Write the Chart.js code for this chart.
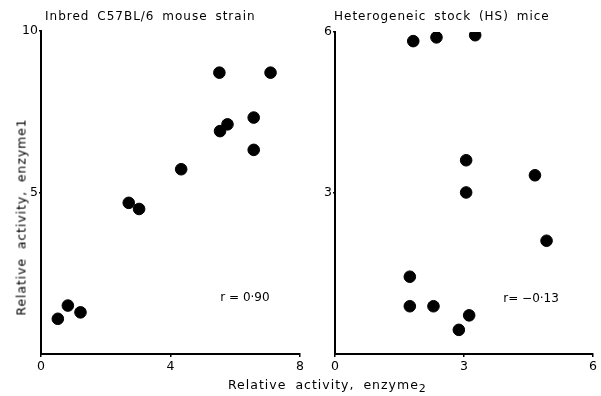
<!DOCTYPE html>
<html>
<head>
<meta charset="utf-8">
<script src="https://cdn.jsdelivr.net/npm/chart.js@4.4.1/dist/chart.umd.min.js"></script>
<style>
  body { margin: 0; background: #fff; }
  #wrap { position: relative; width: 601px; height: 396px; overflow: hidden; font-family: "DejaVu Sans", sans-serif; color: #000; }
  #leftBox { position: absolute; left: 0; top: 0; width: 312px; height: 396px; }
  #rightBox { position: absolute; left: 300px; top: 0; width: 301px; height: 396px; }
  .title { position: absolute; top: 9px; font-size: 12px; letter-spacing: 1px; word-spacing: 3px; white-space: nowrap; }
  #xTitle { position: absolute; left: 228px; top: 377px; font-size: 12.5px; letter-spacing: 1px; word-spacing: 4px; white-space: nowrap; }
  #xTitle sub { font-size: 11px; vertical-align: -3px; }
  #yTitle { position: absolute; left: 21px; top: 217px; font-size: 12.5px; letter-spacing: 0.9px; word-spacing: 4px; white-space: nowrap; transform: translate(-50%, -50%) rotate(-90deg); }
</style>
</head>
<body>
<div id="wrap">
  <div id="leftBox"><canvas id="inbredChart"></canvas></div>
  <div id="rightBox"><canvas id="hsChart"></canvas></div>
  <div class="title" style="left:45px">Inbred C57BL/6 mouse strain</div>
  <div class="title" style="left:334px">Heterogeneic stock (HS) mice</div>
  <div id="xTitle">Relative activity, enzyme<sub>2</sub></div>
  <div id="yTitle">Relative activity, enzyme1</div>
</div>
<script>
// Inbred C57BL/6 mice: enzyme2 (x) vs enzyme1 (y)
const inbredEnzyme2 = [5.51, 7.09, 6.57, 5.76, 5.53, 6.57, 4.33, 2.71, 3.03, 0.83, 1.22, 0.52];
const inbredEnzyme1 = [8.71, 8.71, 7.32, 7.11, 6.90, 6.32, 5.72, 4.68, 4.49, 1.50, 1.29, 1.09];
const inbredXTicks = [0, 4, 8];
const inbredYTicks = [5, 10];
const inbredR = "r = 0·90";

// Heterogeneic stock (HS) mice
const hsEnzyme2 = [1.82, 2.36, 3.26, 3.05, 4.65, 3.05, 4.92, 1.74, 1.74, 2.29, 3.12, 2.88];
const hsEnzyme1 = [5.83, 5.90, 5.94, 3.61, 3.33, 3.01, 2.11, 1.44, 0.89, 0.89, 0.72, 0.45];
const hsXTicks = [0, 3, 6];
const hsYTicks = [3, 6];
const hsR = "r= −0·13";

const FONT = "'DejaVu Sans', sans-serif";

// draws the correlation label at a data position
const rLabel = {
    id: "rLabel",
    afterDatasetsDraw(chart, args, opts) {
        const { ctx, scales } = chart;
        ctx.save();
        ctx.font = "12px " + FONT;
        ctx.fillStyle = "#000";
        ctx.textAlign = "center";
        ctx.textBaseline = "middle";
        ctx.fillText(opts.text, scales.x.getPixelForValue(opts.x), scales.y.getPixelForValue(opts.y));
        ctx.restore();
    },
};

function makeScatter(id, xs, ys, xTicks, yTicks, cfg) {
    const ctx = document.getElementById(id).getContext("2d");
    return new Chart(ctx, {
        type: "scatter",
        data: {
            datasets: [{
                data: xs.map((x, i) => ({ x: x, y: ys[i] })),
                backgroundColor: "#000",
                borderColor: "#000",
                pointRadius: 5.8,
                pointHoverRadius: 5.8,
            }],
        },
        options: {
            responsive: true,
            maintainAspectRatio: false,
            animation: false,
            layout: { padding: { top: cfg.top, right: cfg.right, left: 0, bottom: 0 } },
            plugins: {
                legend: { display: false },
                tooltip: { enabled: false },
                rLabel: cfg.r,
            },
            scales: {
                x: {
                    type: "linear",
                    min: xTicks[0],
                    max: xTicks[xTicks.length - 1],
                    afterBuildTicks: (s) => { s.ticks = xTicks.map((v) => ({ value: v })); },
                    afterFit: (s) => { s.height = 42; },
                    grid: { display: true, drawOnChartArea: false, drawTicks: true, tickLength: 3, color: "#000", lineWidth: 1.5 },
                    border: { display: true, color: "#000", width: 2 },
                    ticks: { color: "#000", padding: 2, font: { family: FONT, size: 12.5 } },
                },
                y: {
                    type: "linear",
                    min: 0,
                    max: yTicks[yTicks.length - 1],
                    afterBuildTicks: (s) => { s.ticks = yTicks.map((v) => ({ value: v })); },
                    afterFit: (s) => { s.width = cfg.yWidth; },
                    grid: { display: true, drawOnChartArea: false, drawTicks: true, tickLength: 2, color: "#000", lineWidth: 1.5 },
                    border: { display: true, color: "#000", width: 2 },
                    ticks: { color: "#000", padding: 1, font: { family: FONT, size: 12.5 } },
                },
            },
        },
        plugins: [rLabel],
    });
}

makeScatter("inbredChart", inbredEnzyme2, inbredEnzyme1, inbredXTicks, inbredYTicks,
    { top: 31, right: 12, yWidth: 41, r: { text: inbredR, x: 6.3, y: 1.73 } });
makeScatter("hsChart", hsEnzyme2, hsEnzyme1, hsXTicks, hsYTicks,
    { top: 32, right: 8, yWidth: 35, r: { text: hsR, x: 4.56, y: 1.02 } });
</script>
</body>
</html>
